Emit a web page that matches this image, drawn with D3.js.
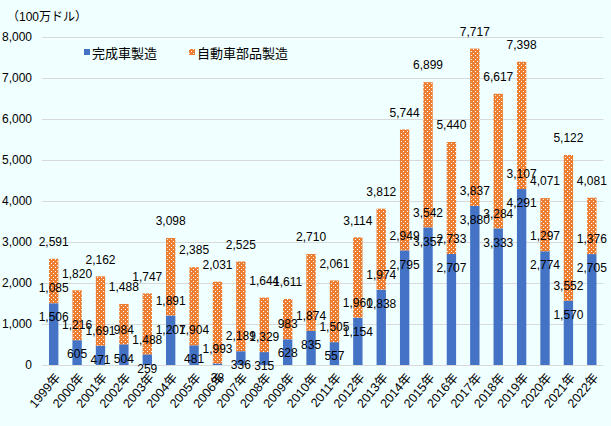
<!DOCTYPE html>
<html><head><meta charset="utf-8">
<script src="https://cdn.jsdelivr.net/npm/d3@7"></script>
<style>
html,body{margin:0;padding:0;background:#F0FFFF;}
svg{display:block;font-family:"Liberation Sans","Noto Sans CJK JP",sans-serif;}
</style></head><body>
<svg id="chart" width="611" height="426"></svg>
<script>
const years = ["1999年","2000年","2001年","2002年","2003年","2004年","2005年","2006年","2007年","2008年","2009年","2010年","2011年","2012年","2013年","2014年","2015年","2016年","2017年","2018年","2019年","2020年","2021年","2022年"];
const vehicles = [1506,605,471,504,259,1207,481,38,336,315,628,835,557,1154,1838,2795,3357,2707,3880,3333,4291,2774,1570,2705];
const parts = [1085,1216,1691,984,1488,1891,1904,1993,2189,1329,983,1874,1505,1960,1974,2949,3542,2733,3837,3284,3107,1297,3552,1376];
const totals = [2591,1820,2162,1488,1747,3098,2385,2031,2525,1644,1611,2710,2061,3114,3812,5744,6899,5440,7717,6617,7398,4071,5122,4081];
const yTicks = [0,1000,2000,3000,4000,5000,6000,7000,8000];
const seriesNames = ["完成車製造","自動車部品製造"];
const unitLabel = "（100万ドル）";

const blue = "#4472C4", orange = "#ED7D31";
const svg = d3.select("#chart");
svg.append("rect").attr("width",611).attr("height",426).attr("fill","#F0FFFF");

const defs = svg.append("defs");
const pat = defs.append("pattern").attr("id","dots").attr("patternUnits","userSpaceOnUse")
  .attr("width",4).attr("height",4);
pat.append("rect").attr("width",4).attr("height",4).attr("fill",orange);
pat.append("rect").attr("x",1).attr("y",1).attr("width",1).attr("height",1).attr("fill","#fff");
pat.append("rect").attr("x",3).attr("y",3).attr("width",1).attr("height",1).attr("fill","#fff");

const x = d3.scaleBand().domain(years).range([42,603.5]).paddingInner(0.6).paddingOuter(0.3);
const y = d3.scaleLinear().domain([0,8000]).range([365,37]);
const fmt = d3.format(",");

// gridlines
svg.append("g").selectAll("line").data(yTicks).join("line")
  .attr("x1",42).attr("x2",603.5)
  .attr("y1",d=>Math.round(y(d))+0.5).attr("y2",d=>Math.round(y(d))+0.5)
  .attr("stroke","#D9D9D9").attr("stroke-width",1);

// y tick labels
svg.append("g").selectAll("text").data(yTicks).join("text")
  .attr("x",32).attr("y",d=>y(d)).attr("dy","0.35em")
  .attr("text-anchor","end").attr("font-size",12).attr("fill","#000")
  .text(d=>fmt(d));

svg.append("text").attr("x",7).attr("y",17).attr("dy","0.35em")
  .attr("font-size",12).attr("fill","#000").text(unitLabel);

const data = years.map((yr,i)=>({yr, v:vehicles[i], p:parts[i], t:totals[i]}));

// bars
const g = svg.append("g");
g.selectAll("rect.v").data(data).join("rect").attr("class","v")
  .attr("x",d=>x(d.yr)).attr("width",x.bandwidth())
  .attr("y",d=>y(d.v)).attr("height",d=>y(0)-y(d.v)).attr("fill",blue);
g.selectAll("rect.p").data(data).join("rect").attr("class","p")
  .attr("x",d=>x(d.yr)).attr("width",x.bandwidth())
  .attr("y",d=>y(d.v+d.p)).attr("height",d=>y(d.v)-y(d.v+d.p)).attr("fill","url(#dots)");

// labels
const cx = d=>x(d.yr)+x.bandwidth()/2;
const lab = svg.append("g").attr("font-size",12).attr("fill","#000").attr("text-anchor","middle");
lab.selectAll("text.v").data(data).join("text").attr("class","v")
  .attr("x",cx).attr("y",d=>y(d.v)+14).attr("dy","0.35em").text(d=>fmt(d.v));
lab.selectAll("text.p").data(data).join("text").attr("class","p")
  .attr("x",cx).attr("y",d=>y(d.v)-15).attr("dy","0.35em").text(d=>fmt(d.p));
lab.selectAll("text.t").data(data).join("text").attr("class","t")
  .attr("x",cx).attr("y",d=>y(d.t)-17).attr("dy","0.35em").text(d=>fmt(d.t));

// x axis labels
svg.append("g").selectAll("text").data(years).join("text")
  .attr("transform",d=>`translate(${x(d)+x.bandwidth()/2+4},${y(0)+10}) rotate(-50)`)
  .attr("text-anchor","end").attr("dy","0.35em").attr("font-size",12.5).attr("fill","#000")
  .text(d=>d);

// legend
const leg = svg.append("g").attr("font-size",13).attr("fill","#000");
const legX = [84,189];
[blue,orange].forEach((c,i)=>{
  leg.append("rect").attr("x",legX[i]).attr("y",49).attr("width",6).attr("height",6)
    .attr("fill", i===0? blue : "url(#dots)");
  leg.append("text").attr("x",legX[i]+8).attr("y",53).attr("dy","0.35em").text(seriesNames[i]);
});
</script>
</body></html>
